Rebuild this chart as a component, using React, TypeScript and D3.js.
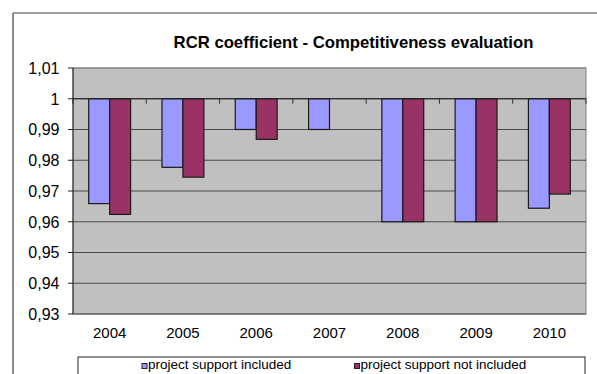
import React from "react";
import * as d3 from "d3";

const years = ["2004", "2005", "2006", "2007", "2008", "2009", "2010"];
const included = [0.9659, 0.9777, 0.99, 0.99, 0.96, 0.96, 0.9644];
const notIncluded = [0.9624, 0.9745, 0.9868, 1.0, 0.96, 0.96, 0.969];
const yTicks = [0.93, 0.94, 0.95, 0.96, 0.97, 0.98, 0.99, 1.0, 1.01];
const seriesNames = ["project support included", "project support not included"];
const colors = ["#9999FF", "#993366"];

const W = 597;
const H = 374;
const plot = { left: 73, right: 586, top: 68, bottom: 314 };
const FONT = "'Liberation Sans', Arial, sans-serif";

export default function App() {
  const x = d3
    .scaleBand<string>()
    .domain(years)
    .range([plot.left, plot.right])
    .paddingInner(0)
    .paddingOuter(0);
  const y = d3.scaleLinear().domain([0.93, 1.01]).range([plot.bottom, plot.top]);
  const step = x.step();
  const bw = step / 3.5;
  const base = y(1);

  const fmt = (v: number) => {
    const s = d3.format(".2f")(v).replace(".", ",");
    return v === 1 ? "1" : s.replace(/0+$/, "").replace(/,$/, "");
  };

  const series = [included, notIncluded];

  return (
    <svg
      width={W}
      height={H}
      style={{ position: "absolute", left: 0, top: 0, background: "#fff" }}
      fontFamily={FONT}
    >
      {/* outer frame */}
      <line x1={13} y1={13} x2={W} y2={13} stroke="#404040" strokeWidth={1.2} />
      <line x1={13} y1={13} x2={13} y2={H} stroke="#404040" strokeWidth={1.2} />

      {/* title */}
      <text x={353.5} y={47.5} textAnchor="middle" fontWeight="bold" fontSize={16.7} fill="#000">
        RCR coefficient - Competitiveness evaluation
      </text>

      {/* plot background */}
      <rect
        x={plot.left}
        y={plot.top}
        width={plot.right - plot.left}
        height={plot.bottom - plot.top}
        fill="#C0C0C0"
        stroke="#808080"
        strokeWidth={1}
      />

      {/* gridlines */}
      {yTicks.map((t) => (
        <line
          key={"g" + t}
          x1={plot.left}
          x2={plot.right}
          y1={y(t)}
          y2={y(t)}
          stroke={t === 1.01 ? "#808080" : "#4a4a4a"}
          strokeWidth={1}
        />
      ))}

      {/* bars */}
      {years.map((yr, i) => {
        const cx = (x(yr) as number) + step / 2;
        return series.map((s, si) => {
          const v = s[i];
          const h = y(v) - base;
          if (h <= 0.5) return null;
          return (
            <rect
              key={yr + si}
              x={cx - bw + si * bw}
              y={base}
              width={bw}
              height={h}
              fill={colors[si]}
              stroke="#1a1a1a"
              strokeWidth={1.2}
            />
          );
        });
      })}

      {/* x axis at value 1 */}
      <line x1={plot.left} x2={plot.right} y1={base} y2={base} stroke="#222" strokeWidth={1} />
      {d3.range(years.length + 1).map((k) => {
        const xx = plot.left + k * step;
        return <line key={"xt" + k} x1={xx} x2={xx} y1={base} y2={base + 5} stroke="#333" strokeWidth={1} />;
      })}

      {/* y axis */}
      <line x1={plot.left} x2={plot.left} y1={plot.top} y2={plot.bottom} stroke="#222" strokeWidth={1} />
      {yTicks.map((t) => (
        <g key={"yt" + t}>
          <line x1={plot.left - 5} x2={plot.left} y1={y(t)} y2={y(t)} stroke="#222" strokeWidth={1} />
          <text x={59.5} y={y(t) + 5.8} textAnchor="end" fontSize={16} fill="#000">
            {fmt(t)}
          </text>
        </g>
      ))}

      {/* year labels */}
      {years.map((yr) => (
        <text key={"yl" + yr} x={(x(yr) as number) + step / 2} y={338} textAnchor="middle" fontSize={15} fill="#000">
          {yr}
        </text>
      ))}

      {/* legend */}
      <rect x={78} y={357} width={507} height={30} fill="#fff" stroke="#222" strokeWidth={1} />
      {seriesNames.map((n, i) => {
        const lx = i === 0 ? 142 : 354.5;
        return (
          <g key={"lg" + i}>
            <rect x={lx} y={363.5} width={5} height={5} fill={colors[i]} stroke="#222" strokeWidth={1} />
            <text x={lx + 6} y={368.5} fontSize={13.5} fill="#000">
              {n}
            </text>
          </g>
        );
      })}
    </svg>
  );
}
